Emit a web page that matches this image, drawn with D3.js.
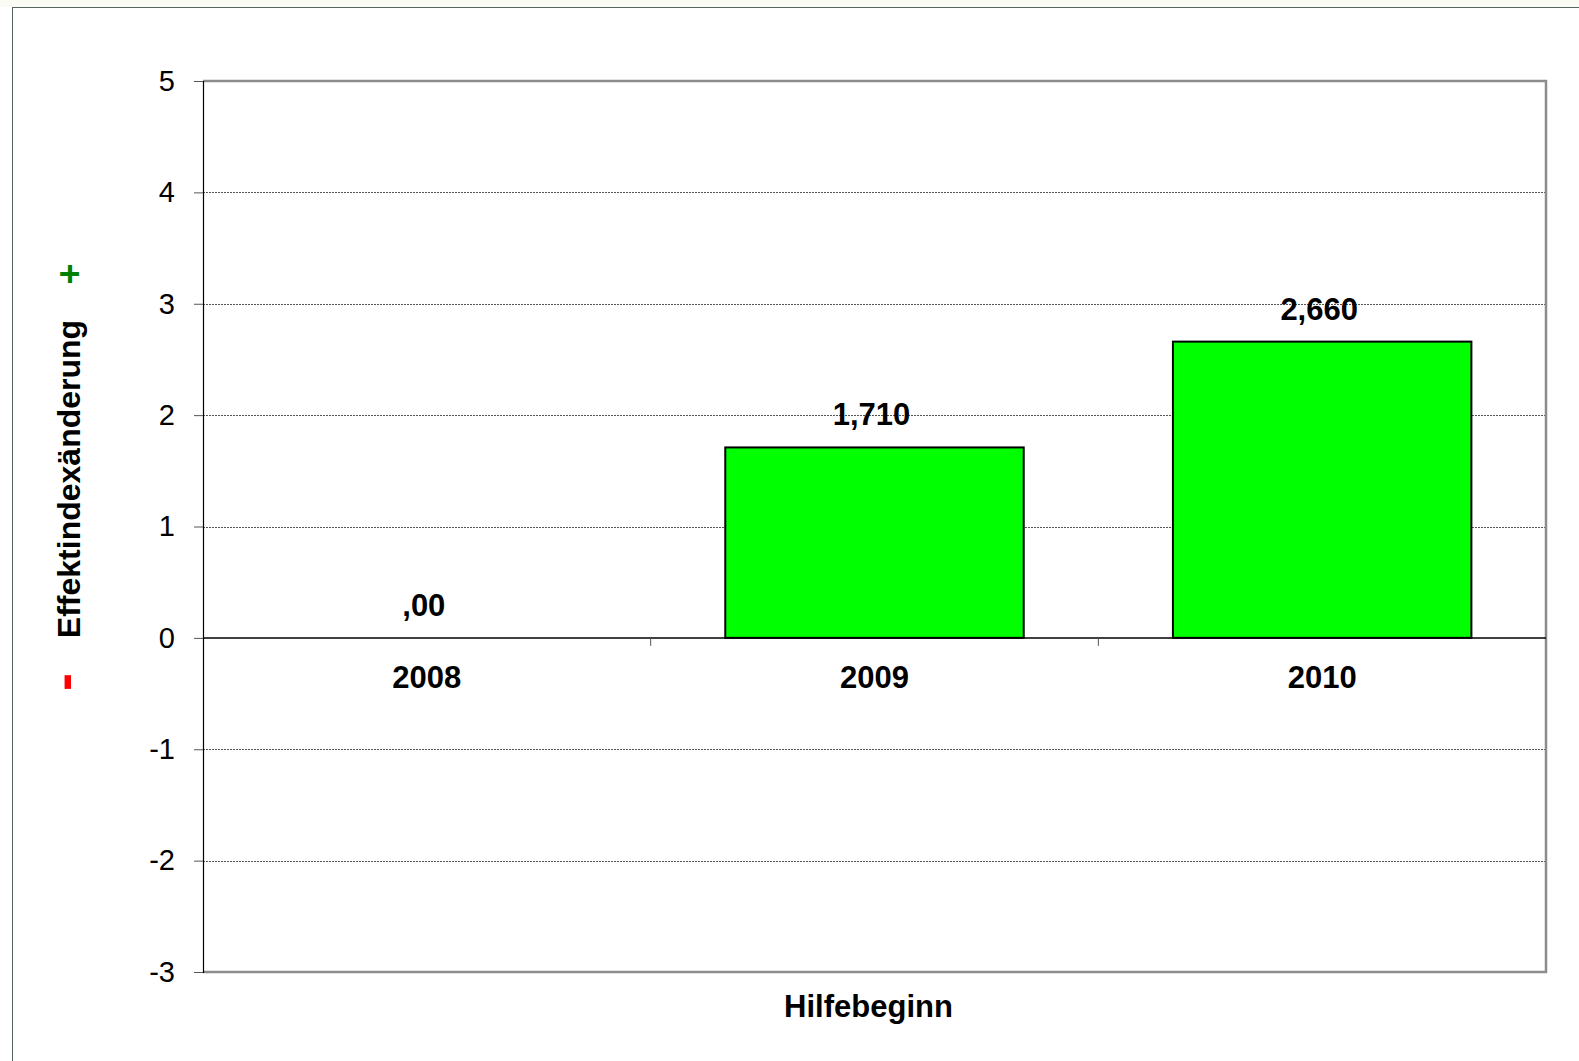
<!DOCTYPE html>
<html>
<head>
<meta charset="utf-8">
<script src="https://cdn.jsdelivr.net/npm/d3@7"></script>
<style>
  html, body { margin: 0; padding: 0; background: #fff; }
  svg { display: block; font-family: "Liberation Sans", Arial, sans-serif; }
</style>
</head>
<body>
<svg id="chart" width="1579" height="1061"></svg>
<script>
const categories = ["2008", "2009", "2010"];
const values = [0, 1.71, 2.66];
const valueLabels = [",00", "1,710", "2,660"];
const yTicks = [-3, -2, -1, 0, 1, 2, 3, 4, 5];
const yTitle = "Effektindexänderung";
const xTitle = "Hilfebeginn";

const svg = d3.select("#chart");
const W = 1579, H = 1061;
const pLeft = 203, pRight = 1546, pTop = 81, pBottom = 972;

// outer frame
svg.append("rect").attr("x", 0).attr("y", 0).attr("width", W).attr("height", H).attr("fill", "#fff");
svg.append("rect").attr("x", 0).attr("y", 0).attr("width", W).attr("height", 7).attr("fill", "#fbfbf6");
svg.append("rect").attr("x", 12.5).attr("y", 7.5).attr("width", W).attr("height", H)
  .attr("fill", "#fff").attr("stroke", "#5a6462").attr("stroke-width", 1);

const x = d3.scaleBand().domain(categories).range([pLeft, pRight]).paddingInner(1/3).paddingOuter(1/6);
const xb = d3.scaleBand().domain(categories).range([pLeft, pRight]).padding(0);
const y = d3.scaleLinear().domain([-3, 5]).range([pBottom, pTop]);

// gridlines
svg.append("g").selectAll("line").data(yTicks.filter(t => t !== 0 && t !== 5 && t !== -3)).join("line")
  .attr("x1", pLeft).attr("x2", pRight)
  .attr("y1", d => Math.round(y(d)) + 0.5).attr("y2", d => Math.round(y(d)) + 0.5)
  .attr("stroke", "#555").attr("stroke-width", 1).attr("stroke-dasharray", "2,1");

// plot border (top, right, bottom) gray
svg.append("path")
  .attr("d", `M${pLeft},${pTop} H${pRight} V${pBottom} H${pLeft}`)
  .attr("fill", "none").attr("stroke", "#8c8c8c").attr("stroke-width", 2.5);

// bars
svg.append("g").selectAll("rect").data(categories.map((c, i) => ({c, v: values[i]})).filter(d => d.v !== 0)).join("rect")
  .attr("x", d => x(d.c)).attr("width", x.bandwidth())
  .attr("y", d => y(Math.max(0, d.v))).attr("height", d => Math.abs(y(d.v) - y(0)))
  .attr("fill", "#00ff00").attr("stroke", "#000").attr("stroke-width", 2);

// y axis
const yAxis = svg.append("g").attr("transform", `translate(${pLeft},0)`)
  .call(d3.axisLeft(y).tickValues(yTicks).tickSize(9).tickPadding(19).tickFormat(d3.format("d")));
yAxis.select(".domain").attr("stroke", "#000").attr("stroke-width", 1.2);
yAxis.selectAll(".tick line").attr("stroke", "#555");
yAxis.selectAll("text").attr("font-size", 29).attr("fill", "#000")
  .attr("font-family", '"Liberation Sans", Arial, sans-serif').text(d => d < 0 ? "-" + Math.abs(d) : d);

// zero line with category ticks
svg.append("line").attr("x1", pLeft).attr("x2", pRight).attr("y1", y(0)).attr("y2", y(0))
  .attr("stroke", "#000").attr("stroke-width", 1.5);
svg.append("g").selectAll("line").data(categories.slice(1)).join("line")
  .attr("x1", d => xb(d)).attr("x2", d => xb(d)).attr("y1", y(0)).attr("y2", y(0) + 8)
  .attr("stroke", "#555").attr("stroke-width", 1);

// category labels
svg.append("g").selectAll("text").data(categories).join("text")
  .attr("x", d => xb(d) + xb.bandwidth() / 2).attr("y", y(0) + 50)
  .attr("text-anchor", "middle").attr("font-size", 31).attr("font-weight", "bold")
  .text(d => d);

// value labels
svg.append("g").selectAll("text").data(categories.map((c, i) => ({c, v: values[i], l: valueLabels[i]}))).join("text")
  .attr("x", d => x(d.c) + x.bandwidth() / 2 - 3).attr("y", d => y(Math.max(0, d.v)) - 22)
  .attr("text-anchor", "middle").attr("font-size", 31).attr("font-weight", "bold")
  .text(d => d.l);

// x title
svg.append("text").attr("x", (pLeft + pRight) / 2 - 6).attr("y", 1017)
  .attr("text-anchor", "middle").attr("font-size", 31).attr("font-weight", "bold").text(xTitle);

// y title
svg.append("text").attr("transform", `translate(80,${(320 + 638) / 2}) rotate(-90)`)
  .attr("text-anchor", "middle").attr("font-size", 32).attr("font-weight", "bold").text(yTitle);

svg.append("text").attr("transform", `translate(82,274) rotate(-90)`)
  .attr("text-anchor", "middle").attr("font-size", 36).attr("font-weight", "bold").attr("fill", "#008000").text("+");
svg.append("text").attr("transform", `translate(82,682) rotate(-90)`)
  .attr("text-anchor", "middle").attr("font-size", 54).attr("font-weight", "bold").attr("fill", "#ff0000").text("-");
</script>
</body>
</html>
